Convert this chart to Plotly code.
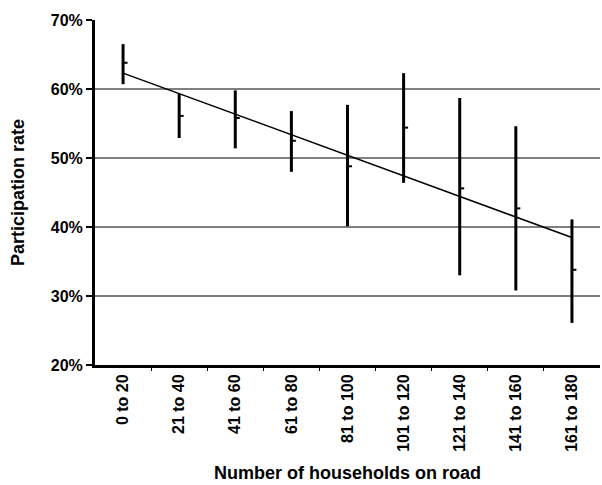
import numpy as np
import plotly.graph_objects as go

categories = ["0 to 20", "21 to 40", "41 to 60", "61 to 80", "81 to 100",
              "101 to 120", "121 to 140", "141 to 160", "161 to 180"]
mean_rate = [63.8, 56.1, 55.8, 52.5, 48.8, 54.4, 45.6, 42.7, 33.8]
high_rate = [66.5, 59.3, 59.8, 56.8, 57.7, 62.3, 58.7, 54.6, 41.1]
low_rate = [60.7, 52.9, 51.4, 48.0, 40.1, 46.4, 33.0, 30.8, 26.1]
y_ticks = [20, 30, 40, 50, 60, 70]

x = np.arange(len(categories))
mean = np.array(mean_rate)
hi = np.array(high_rate)
lo = np.array(low_rate)

fig = go.Figure()

# high-low bars
fig.add_trace(go.Scatter(
    x=x, y=mean, mode="markers",
    marker=dict(size=0.1, color="rgba(0,0,0,0)"),
    error_y=dict(type="data", symmetric=False, array=hi - mean, arrayminus=mean - lo,
                 color="black", thickness=3, width=0),
    showlegend=False, hoverinfo="skip"))

# mean ticks (short stub to the right of each bar)
tx, ty = [], []
for xi, m in zip(x, mean):
    tx += [xi, xi + 0.08, None]
    ty += [m, m, None]
fig.add_trace(go.Scatter(x=tx, y=ty, mode="lines", line=dict(color="black", width=2),
                         showlegend=False, hoverinfo="skip"))

# linear trend of means
slope, intercept = np.polyfit(x, mean, 1)
fig.add_trace(go.Scatter(x=[x[0], x[-1]], y=[intercept + slope * x[0], intercept + slope * x[-1]],
                         mode="lines", line=dict(color="black", width=1.5),
                         showlegend=False, hoverinfo="skip"))

font_family = "Liberation Sans, Arial, sans-serif"
fig.update_layout(
    width=602, height=485,
    margin=dict(l=95, r=2, t=20, b=120),
    paper_bgcolor="white", plot_bgcolor="white",
    font=dict(family=font_family, color="black", size=16),
    xaxis=dict(
        range=[-0.5, len(categories) - 0.5],
        tickmode="array", tickvals=list(x), ticktext=["<b>%s</b>" % c for c in categories],
        tickangle=-90, ticks="", showgrid=False, zeroline=False,
        showline=True, linecolor="black", linewidth=3,
        tickfont=dict(size=16, family=font_family),
        minor=dict(tickmode="array", tickvals=list(x[:-1] + 0.5), ticks="outside",
                   ticklen=3, tickwidth=1, tickcolor="black", showgrid=False),
        title=dict(text="<b>Number of households on road</b>", font=dict(size=18), standoff=16),
    ),
    yaxis=dict(
        range=[20, 70], tickmode="array", tickvals=y_ticks,
        ticktext=["<b>%d%%</b>" % v for v in y_ticks],
        ticks="outside", ticklen=6, tickwidth=2, tickcolor="black",
        showline=True, linecolor="black", linewidth=3,
        showgrid=False, zeroline=False,
        minor=dict(tickmode="array", tickvals=y_ticks[1:-1], showgrid=True,
                   gridcolor="#808080", gridwidth=1.5, ticks=""),
        tickfont=dict(size=16, family=font_family),
        title=dict(text="<b>Participation rate</b>", font=dict(size=18), standoff=22),
    ),
)

fig.write_html("out.html")
